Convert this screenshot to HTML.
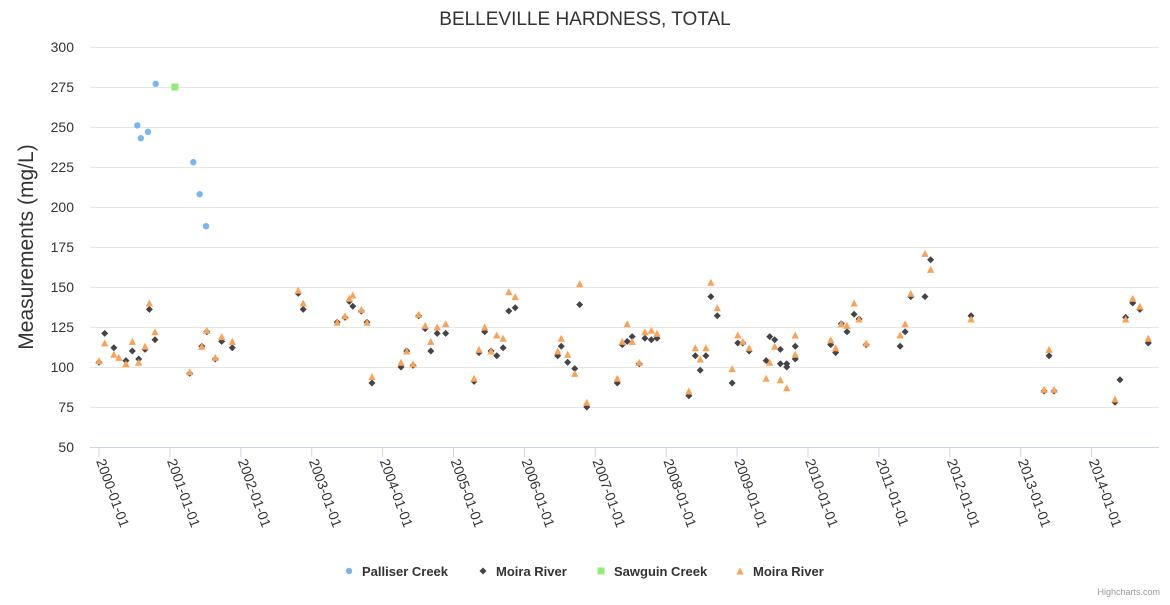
<!DOCTYPE html>
<html><head><meta charset="utf-8"><style>
body{margin:0;background:#fff;font-family:"Liberation Sans",Arial,sans-serif}
svg text{font-family:"Liberation Sans",Arial,sans-serif}
</style></head><body>
<svg id="chart" width="1170" height="600" xmlns="http://www.w3.org/2000/svg">
<rect width="1170" height="600" fill="#fff"/>
<text x="585" y="25" text-anchor="middle" font-size="19" fill="#333">BELLEVILLE HARDNESS, TOTAL</text>
<text transform="translate(33,247) rotate(-90)" text-anchor="middle" font-size="21" fill="#333">Measurements (mg/L)</text>
<g id="grid"></g><g id="xaxis"></g><g id="marks"></g>
<g id="legend"></g>
<text x="1160" y="595" text-anchor="end" font-size="9" fill="#999">Highcharts.com</text>
</svg>
<script>
const yTicks=[50,75,100,125,150,175,200,225,250,275,300];
const xYears=[2000,2001,2002,2003,2004,2005,2006,2007,2008,2009,2010,2011,2012,2013,2014];
const pallT=[0.54,0.59,0.69,0.80,1.33,1.42,1.51];
const pallV=[251,243,247,277,228,208,188];
const sawT=[1.07];
const sawV=[275];
const moiraT=[0.00,0.08,0.21,0.38,0.47,0.56,0.65,0.71,0.79,1.28,1.45,1.52,1.64,1.73,1.88,2.81,2.88,3.36,3.47,3.53,3.58,3.70,3.78,3.85,4.26,4.34,4.43,4.51,4.60,4.68,4.77,4.89,5.29,5.36,5.44,5.53,5.61,5.70,5.78,5.87,6.47,6.52,6.61,6.71,6.78,6.88,7.31,7.38,7.45,7.52,7.62,7.70,7.79,7.87,8.32,8.41,8.48,8.56,8.63,8.72,8.93,9.01,9.08,9.17,9.41,9.46,9.53,9.61,9.61,9.70,9.70,9.82,9.82,10.32,10.39,10.47,10.55,10.65,10.72,10.82,11.30,11.37,11.45,11.65,11.73,12.30,13.33,13.40,13.47,14.33,14.40,14.48,14.58,14.68,14.80];
const moiraV=[103,121,112,104,110,105,111,136,117,96,113,122,105,116,112,146,136,128,131,141,138,135,128,90,100,110,101,132,124,110,121,121,91,109,122,110,107,112,135,137,107,113,103,99,139,75,90,114,116,119,102,118,117,118,82,107,98,107,144,132,90,115,115,110,104,119,117,102,111,100,102,105,113,114,109,127,122,133,130,114,113,122,144,144,167,132,85,107,85,78,92,131,140,136,115];
const moira2T=[0.00,0.08,0.21,0.28,0.38,0.47,0.56,0.65,0.71,0.79,1.28,1.45,1.52,1.64,1.73,1.88,2.81,2.88,3.36,3.47,3.53,3.58,3.70,3.78,3.85,4.26,4.34,4.43,4.51,4.60,4.68,4.77,4.89,5.29,5.36,5.44,5.53,5.61,5.70,5.78,5.87,6.47,6.52,6.61,6.71,6.78,6.88,7.31,7.38,7.45,7.52,7.62,7.70,7.79,7.87,8.32,8.41,8.48,8.56,8.63,8.72,8.93,9.01,9.08,9.17,9.41,9.46,9.53,9.61,9.70,9.82,9.82,10.32,10.39,10.47,10.55,10.65,10.72,10.82,11.30,11.37,11.45,11.65,11.73,12.30,13.33,13.40,13.47,14.33,14.48,14.58,14.68,14.80];
const moira2V=[104,115,108,106,102,116,103,113,140,122,97,113,123,106,119,116,148,140,128,132,143,145,136,128,94,103,110,102,133,126,116,125,127,93,111,125,110,120,118,147,144,110,118,108,96,152,78,93,116,127,116,103,122,123,121,85,112,105,112,153,137,99,120,116,112,93,103,113,92,87,120,108,117,112,127,126,140,130,115,120,127,146,171,161,130,86,111,86,80,130,143,138,118];
const NS='http://www.w3.org/2000/svg';
const L=90,R=1159,T=47,B=447,X0=99,PXY=70.9;
const xs=t=>X0+t*PXY, ys=v=>B-(v-50)*(B-T)/250;
function mk(tag,at,parent){const e=document.createElementNS(NS,tag);for(const k in at)e.setAttribute(k,at[k]);parent.appendChild(e);return e;}
const grid=document.getElementById('grid');
yTicks.forEach(v=>{
 const ln=mk('line',{x1:L,x2:R,y1:ys(v)+0.5,y2:ys(v)+0.5,stroke:'#e6e6e6','stroke-width':1},grid);
 
 
 const tx=mk('text',{x:L-16,y:ys(v)+5,'text-anchor':'end','font-size':14,fill:'#333'},grid);
 tx.textContent=v;
 
 
});
const xa=document.getElementById('xaxis');
const axl=mk('line',{x1:L,x2:R,y1:B+0.5,y2:B+0.5,stroke:'#ccd6eb'},xa);


xYears.forEach(y=>{
 const x=xs(y-2000);
 const tk=mk('line',{x1:x,x2:x,y1:B,y2:B+10,stroke:'#ccd6eb'},xa);
 
 
 const tx=mk('text',{transform:`translate(${x-3},${B+14}) rotate(70)`,'font-size':14,fill:'#333'},xa);
 tx.textContent=y+'-01-01';
 
 
});
const mg=document.getElementById('marks');
function circle(x,y,c){return mk('circle',{cx:x,cy:y,r:3.2,fill:c},mg);}
function diamond(x,y,c){return mk('path',{d:`M${x} ${y-3.5}L${x+3.5} ${y}L${x} ${y+3.5}L${x-3.5} ${y}Z`,fill:c},mg);}
function square(x,y,c){return mk('rect',{x:x-3.5,y:y-3.5,width:7,height:7,fill:c},mg);}
function tri(x,y,c){return mk('path',{d:`M${x} ${y-3.5}L${x+3.7} ${y+3.5}L${x-3.7} ${y+3.5}Z`,fill:c},mg);}
moiraT.forEach((t,i)=>{const e=diamond(xs(t),ys(moiraV[i]),'#434348');
 
 });
moira2T.forEach((t,i)=>{const e=tri(xs(t),ys(moira2V[i]),'#f7a35c');
 
 });
pallT.forEach((t,i)=>{const e=circle(xs(t),ys(pallV[i]),'#7cb5ec');
 
 });
sawT.forEach((t,i)=>{const e=square(xs(t),ys(sawV[i]),'#90ed7d');
 
 });
const lg=document.getElementById('legend');
const items=[['Palliser Creek','#7cb5ec',circle,349],['Moira River','#434348',diamond,483],['Sawguin Creek','#90ed7d',square,601],['Moira River','#f7a35c',tri,740]];
items.forEach(it=>{
 const g=mk('g',{},lg);
 
 
 const m=it[2](it[3],571,it[1]); g.appendChild(m);
 const tx=mk('text',{x:it[3]+13,y:576,'font-size':13,'font-weight':'bold',fill:'#333'},g);
 tx.textContent=it[0];
});
</script>
</body></html>
